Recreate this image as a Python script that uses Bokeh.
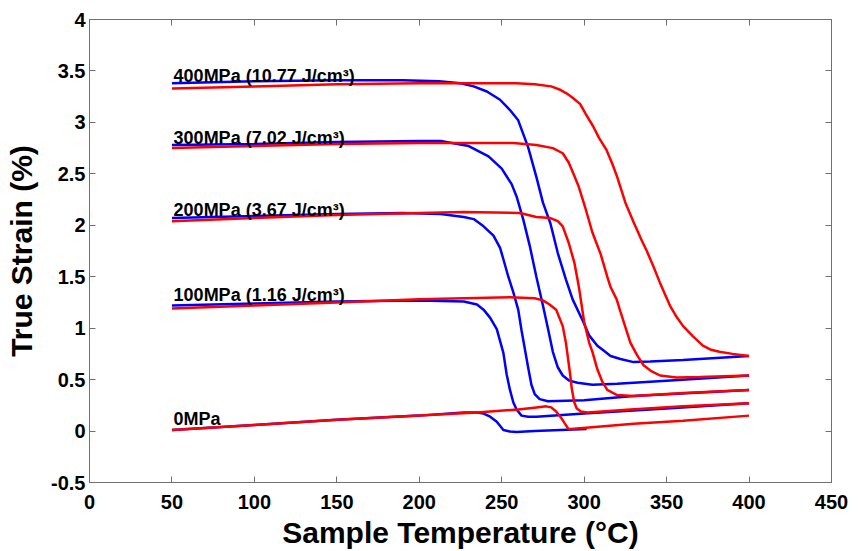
from bokeh.plotting import figure
from bokeh.models import Range1d, LinearAxis, FixedTicker, ColumnDataSource, CustomLabelingPolicy
from bokeh.embed import file_html
from bokeh.resources import INLINE
from bokeh.core.properties import value

# ---- data ----
x_ticks = [0, 50, 100, 150, 200, 250, 300, 350, 400, 450]
x_tick_labels = ["0", "50", "100", "150", "200", "250", "300", "350", "400", "450"]
y_ticks = [-0.5, 0, 0.5, 1, 1.5, 2, 2.5, 3, 3.5, 4]
y_tick_labels = ["-0.5", "0", "0.5", "1", "1.5", "2", "2.5", "3", "3.5", "4"]

# 400 MPa
t400_blue = [50, 100, 150, 190, 212, 225, 233, 241, 249, 255, 260, 266, 271, 275, 279.5, 284, 289, 293, 299.5, 303, 308, 312, 316, 322, 330, 340, 360, 380, 400]
s400_blue = [3.38, 3.40, 3.41, 3.41, 3.40, 3.38, 3.35, 3.30, 3.22, 3.12, 3.02, 2.76, 2.47, 2.22, 2.02, 1.73, 1.47, 1.28, 1.06, 0.93, 0.83, 0.78, 0.73, 0.70, 0.67, 0.675, 0.69, 0.71, 0.73]
t400_red = [50, 100, 150, 200, 230, 259, 270, 280, 285, 289.5, 293, 297.5, 301, 305.5, 309, 313.6, 317, 320, 325, 330, 335, 338, 342, 346, 352, 356, 360, 366, 372, 377, 382, 390, 400]
s400_red = [3.33, 3.35, 3.37, 3.38, 3.38, 3.38, 3.37, 3.35, 3.32, 3.28, 3.24, 3.18, 3.08, 2.96, 2.85, 2.73, 2.60, 2.47, 2.22, 2.03, 1.85, 1.75, 1.60, 1.44, 1.22, 1.11, 1.02, 0.92, 0.83, 0.79, 0.77, 0.75, 0.73]

# 300 MPa
t300_blue = [50, 100, 150, 200, 213, 230, 242, 250, 256, 259, 263, 267, 271, 275, 278, 281, 284, 287, 291, 296, 305, 320, 350, 400]
s300_blue = [2.78, 2.79, 2.81, 2.82, 2.82, 2.77, 2.67, 2.55, 2.40, 2.28, 2.06, 1.80, 1.50, 1.22, 1.00, 0.77, 0.62, 0.54, 0.49, 0.47, 0.45, 0.46, 0.49, 0.54]
t300_red = [50, 100, 150, 200, 257, 271, 281, 287, 290.6, 293.5, 296.6, 300.5, 305, 310, 314, 316, 319.7, 322, 326, 328, 332, 336, 341, 346, 356, 370, 400]
s300_red = [2.75, 2.77, 2.79, 2.80, 2.80, 2.78, 2.75, 2.70, 2.61, 2.50, 2.38, 2.18, 1.93, 1.72, 1.50, 1.40, 1.28, 1.16, 0.96, 0.86, 0.74, 0.64, 0.58, 0.54, 0.52, 0.525, 0.54]

# 200 MPa
t200_blue = [50, 100, 150, 190, 213, 227, 233, 239, 245, 249, 251, 254, 257, 260, 262, 264, 266, 268, 270, 273, 278, 300, 330, 400]
s200_blue = [2.07, 2.09, 2.11, 2.12, 2.11, 2.08, 2.06, 1.99, 1.90, 1.78, 1.67, 1.50, 1.35, 1.18, 0.98, 0.80, 0.62, 0.45, 0.36, 0.31, 0.29, 0.30, 0.34, 0.40]
t200_red = [50, 100, 150, 200, 227, 261, 271, 279.5, 284, 287, 290.6, 294, 296, 297, 300, 303, 305, 308, 311, 314, 320, 330, 360, 400]
s200_red = [2.04, 2.07, 2.10, 2.12, 2.13, 2.12, 2.08, 2.07, 2.04, 1.99, 1.83, 1.64, 1.47, 1.38, 1.06, 0.86, 0.77, 0.60, 0.48, 0.40, 0.35, 0.34, 0.37, 0.40]

# 100 MPa
t100_blue = [50, 100, 150, 200, 227, 235, 239, 243, 247, 251, 253, 255, 257, 259, 262, 266, 271, 300, 350, 400]
s100_blue = [1.22, 1.24, 1.26, 1.27, 1.26, 1.23, 1.18, 1.10, 0.99, 0.76, 0.55, 0.40, 0.28, 0.21, 0.15, 0.14, 0.14, 0.17, 0.22, 0.27]
t100_red = [50, 100, 150, 200, 227, 255, 270, 275, 279, 283, 287, 289, 290, 291.5, 292.5, 294, 295.5, 298, 302, 328, 360, 400]
s100_red = [1.19, 1.22, 1.25, 1.28, 1.29, 1.30, 1.29, 1.27, 1.23, 1.18, 1.02, 0.85, 0.73, 0.55, 0.41, 0.28, 0.22, 0.19, 0.18, 0.21, 0.24, 0.27]

# 0 MPa
t0_blue = [50, 100, 150, 200, 227, 235, 239, 243, 247, 251, 255, 259, 270, 301.5]
s0_blue = [0.01, 0.06, 0.11, 0.15, 0.18, 0.18, 0.17, 0.14, 0.09, 0.01, -0.005, -0.01, 0.0, 0.02]
t0_red = [50, 100, 150, 200, 235, 260, 271, 277, 280, 283, 286, 288, 290.5, 292, 330, 360, 400]
s0_red = [0.01, 0.06, 0.11, 0.15, 0.18, 0.21, 0.23, 0.24, 0.23, 0.19, 0.13, 0.08, 0.02, 0.02, 0.07, 0.10, 0.15]

labels = ["400MPa (10.77 J/cm\u00b3)", "300MPa (7.02 J/cm\u00b3)", "200MPa (3.67 J/cm\u00b3)",
          "100MPa (1.16 J/cm\u00b3)", "0MPa"]
label_x = [51, 51, 51, 51, 51]
label_y = [3.45, 2.85, 2.145, 1.32, 0.12]

# ---- figure ----
FONT = "Liberation Sans"
p = figure(width=862, height=551, output_backend="svg", toolbar_location=None,
           x_range=Range1d(0, 450), y_range=Range1d(-0.5, 4),
           min_border_left=89, min_border_right=31, min_border_top=19, min_border_bottom=67,
           background_fill_color="white", border_fill_color="white")
p.grid.visible = False
p.outline_line_color = "#707070"
p.outline_line_width = 1

def style_axis(ax, ticks, tick_labels, show_labels=True):
    ax.ticker = FixedTicker(ticks=ticks)
    ax.major_label_overrides = {float(t): l for t, l in zip(ticks, tick_labels)}
    ax.major_tick_in = 6
    ax.major_tick_out = 0
    ax.minor_tick_in = 0
    ax.minor_tick_out = 0
    ax.axis_line_color = "#707070"
    ax.major_tick_line_color = "#707070"
    ax.major_label_text_font = FONT
    ax.major_label_text_font_style = "bold"
    ax.major_label_text_font_size = "20px"
    ax.major_label_text_color = "black"
    if not show_labels:
        ax.major_label_text_font_size = "0px"
        ax.major_label_standoff = 0
        ax.major_label_policy = CustomLabelingPolicy(code="return []")

xa = p.xaxis[0]
ya = p.yaxis[0]
style_axis(xa, x_ticks, x_tick_labels)
style_axis(ya, y_ticks, y_tick_labels)
xa.major_label_standoff = 12
ya.major_label_standoff = 4
xa.axis_label = "Sample Temperature (\u00b0C)"
ya.axis_label = "True Strain (%)"
for ax in (xa, ya):
    ax.axis_label_text_font = FONT
    ax.axis_label_text_font_style = "bold"
    ax.axis_label_text_font_size = "30px"
    ax.axis_label_text_color = "black"
xa.axis_label_standoff = 4
ya.axis_label_standoff = 10

ra = LinearAxis()
style_axis(ra, y_ticks, y_tick_labels, show_labels=False)
p.add_layout(ra, "right")
ta = LinearAxis()
style_axis(ta, x_ticks, x_tick_labels, show_labels=False)
p.add_layout(ta, "above")

series = [
    (t400_blue, s400_blue, t400_red, s400_red),
    (t300_blue, s300_blue, t300_red, s300_red),
    (t200_blue, s200_blue, t200_red, s200_red),
    (t100_blue, s100_blue, t100_red, s100_red),
    (t0_blue, s0_blue, t0_red, s0_red),
]
for tb, sb, tr, sr in series:
    p.line(tb, sb, line_color="#0000ff", line_width=2.5)
    p.line(tr, sr, line_color="#ff0000", line_width=2.5)

src = ColumnDataSource(dict(x=label_x, y=label_y, text=labels))
p.text(x="x", y="y", text="text", source=src, text_font=value(FONT),
       text_font_style="bold", text_font_size="18px", text_color="black",
       text_align="left", text_baseline="alphabetic")

open("out.html", "w").write(file_html(p, INLINE))
